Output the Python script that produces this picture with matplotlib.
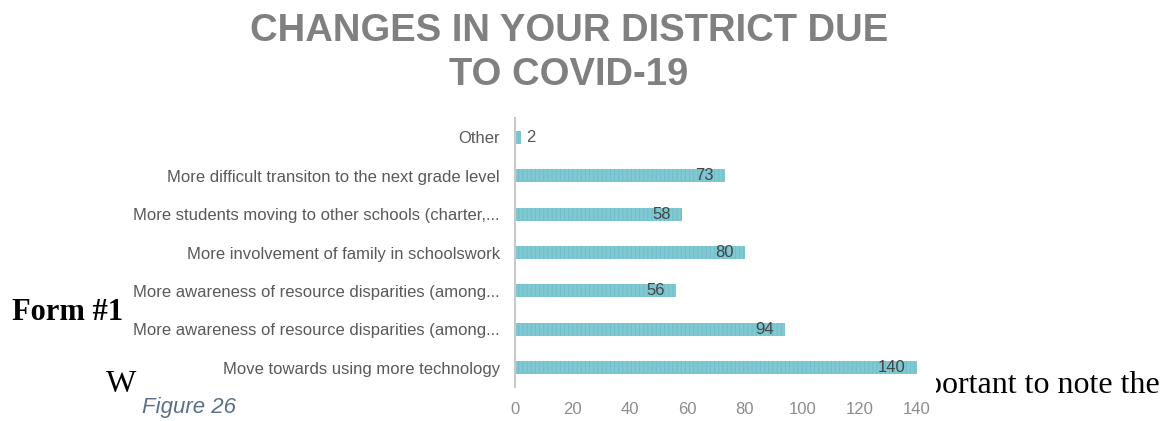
import matplotlib.pyplot as plt
from matplotlib.patches import Rectangle

categories = [
    "Move towards using more technology",
    "More awareness of resource disparities (among...",
    "More awareness of resource disparities (among...",
    "More involvement of family in schoolswork",
    "More students moving to other schools (charter,...",
    "More difficult transiton to the next grade level",
    "Other",
]
counts = [140, 94, 56, 80, 58, 73, 2]
xticks = [0, 20, 40, 60, 80, 100, 120, 140]

W, H = 1169, 421
plt.rcParams['font.family'] = ['Liberation Sans', 'DejaVu Sans']
plt.rcParams['hatch.linewidth'] = 0.7

fig = plt.figure(figsize=(W / 100, H / 100), dpi=100)
fig.patch.set_facecolor('white')

# page text sitting behind the embedded chart image
fig.text(12 / W, 1 - 313 / H, "Form #1", family='Liberation Serif', weight='bold',
         fontsize=22, va='center', ha='left', color='black', zorder=1)
fig.text(106 / W, 1 - 385 / H, "W", family='Liberation Serif',
         fontsize=23, va='center', ha='left', color='black', zorder=1)
fig.text(926 / W, 1 - 385 / H, "portant to note the", family='Liberation Serif',
         fontsize=23, va='center', ha='left', color='black', zorder=1)
fig.patches.append(Rectangle((137 / W, 0), (936 - 137) / W, 1, transform=fig.transFigure,
                             facecolor='white', edgecolor='none', zorder=2))

ax = fig.add_axes([515 / W, 34 / H, (917 - 515) / W, (303 - 34) / H], zorder=5)
ax.patch.set_alpha(0)

y = range(len(categories))
bars = ax.barh(y, counts, height=0.34, color='#80c9d2', hatch='||||',
               edgecolor='#70bec8', linewidth=0)
for yi, v in zip(y, counts):
    if v > 10:
        ax.annotate(str(v), (v, yi), xytext=(-8, 0), textcoords='offset points',
                    ha='right', va='center', fontsize=12, color='#454545')
    else:
        ax.annotate(str(v), (v, yi), xytext=(4, 0), textcoords='offset points',
                    ha='left', va='center', fontsize=12, color='#555555')

ax.set_xlim(0, 140)
ax.set_ylim(-0.5, len(categories) - 0.5)
ax.set_yticks(list(y))
ax.set_yticklabels(categories, fontsize=12, color='#595959')
ax.set_xticks(xticks)
ax.set_xticklabels([str(t) for t in xticks], fontsize=12, color='#8c8c8c')
ax.tick_params(axis='y', length=0, pad=11)
ax.tick_params(axis='x', length=0, pad=11)
for s in ['top', 'right', 'bottom']:
    ax.spines[s].set_visible(False)
ax.spines['left'].set_color('#c8c8c8')
ax.spines['left'].set_linewidth(1.5)

fig.text(569 / W, 1 - 31 / H, "CHANGES IN YOUR DISTRICT DUE", family='Liberation Sans',
         weight='bold', fontsize=27.5, color='#808080', ha='center', va='center', zorder=6)
fig.text(569 / W, 1 - 75 / H, "TO COVID-19", family='Liberation Sans',
         weight='bold', fontsize=27.5, color='#808080', ha='center', va='center', zorder=6)
fig.text(142 / W, 1 - 408 / H, "Figure 26", family='Liberation Sans', style='italic',
         fontsize=16, color='#5b6f86', ha='left', va='center', zorder=6)

fig.savefig('out.png', dpi=100)
